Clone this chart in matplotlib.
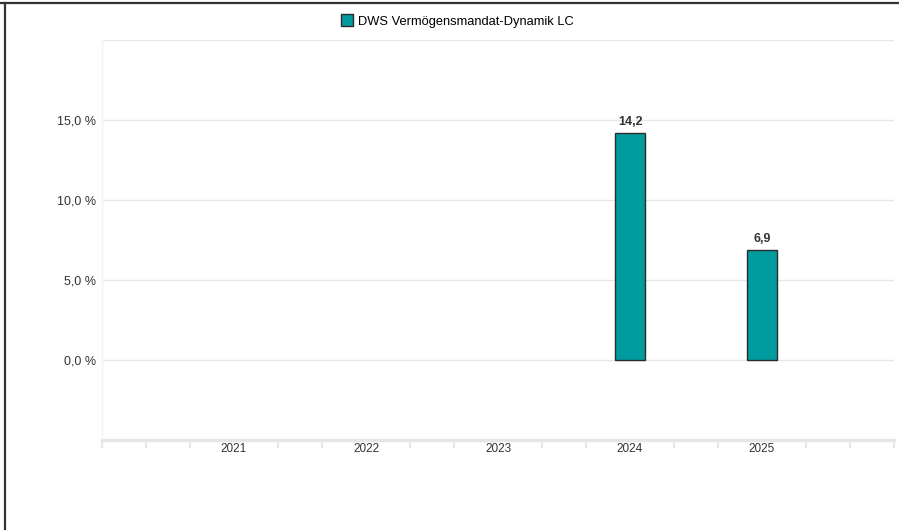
import matplotlib.pyplot as plt
from matplotlib.lines import Line2D
import numpy as np

plt.rcParams['font.family'] = ['Liberation Sans', 'DejaVu Sans']

years = [2021, 2022, 2023, 2024, 2025]
values = [None, None, None, 14.2, 6.9]
labels = ['', '', '', '14,2', '6,9']
series_name = 'DWS Vermögensmandat-Dynamik LC'
yticks = [0, 5, 10, 15]
ytick_labels = ['0,0 %', '5,0 %', '10,0 %', '15,0 %']

bar_color = '#009b9e'
edge_color = '#2b2b2b'

fig = plt.figure(figsize=(8.99, 5.30), dpi=100)
ax = fig.add_axes([102 / 899, 1 - 440 / 530, 792 / 899, 400 / 530])

# bars (only years with values)
for yr, v, lab in zip(years, values, labels):
    if v is None:
        continue
    ax.bar(yr, v, width=0.227, color=bar_color, edgecolor=edge_color, linewidth=1, zorder=3)
    ax.text(yr, v + 0.3, lab, ha='center', va='bottom', fontsize=9,
            fontweight='bold', color='#333333')

ax.set_xlim(2020, 2026)
ax.set_ylim(-5, 20)

# gridlines
for g in [0, 5, 10, 15, 20]:
    ax.axhline(g, color='#e6e6e6', linewidth=1, zorder=1)

ax.set_yticks(yticks)
ax.set_yticklabels(ytick_labels, fontsize=9, color='#333333')
ax.tick_params(axis='y', length=0, pad=4)

# x axis: labels at years, small ticks every third of a year
ax.set_xticks(years)
ax.set_xticklabels([str(y) for y in years], fontsize=8.5, color='#333333')
ax.tick_params(axis='x', length=0, pad=2)
minor = [2020 + i / 3 for i in range(19) if i % 3 != 0 or i in (0, 18)]
ax.set_xticks(minor, minor=True)
ax.tick_params(axis='x', which='minor', length=6, width=1.5, color='#e6e6e6', direction='out')

for s in ['top', 'right']:
    ax.spines[s].set_visible(False)
ax.spines['left'].set_color('#f4f4f4')
ax.spines['left'].set_linewidth(1)
ax.spines['bottom'].set_color('#e6e6e6')
ax.spines['bottom'].set_linewidth(2.5)

# legend
handle = Line2D([0], [0], marker='s', linestyle='none', markersize=9,
                markerfacecolor=bar_color, markeredgecolor=edge_color)
fig.legend([handle], [series_name], loc='center', bbox_to_anchor=(457 / 899, 1 - 22 / 530),
           frameon=False, fontsize=9.3, handletextpad=0.3, handlelength=1)

# outer border on top and left
fig.add_artist(Line2D([0, 1], [1 - 2.5 / 530, 1 - 2.5 / 530], transform=fig.transFigure,
                      color='#333333', linewidth=1.6))
fig.add_artist(Line2D([4.5 / 899, 4.5 / 899], [0, 1 - 2.5 / 530], transform=fig.transFigure,
                      color='#333333', linewidth=1.6))

fig.savefig('out.png', dpi=100)
